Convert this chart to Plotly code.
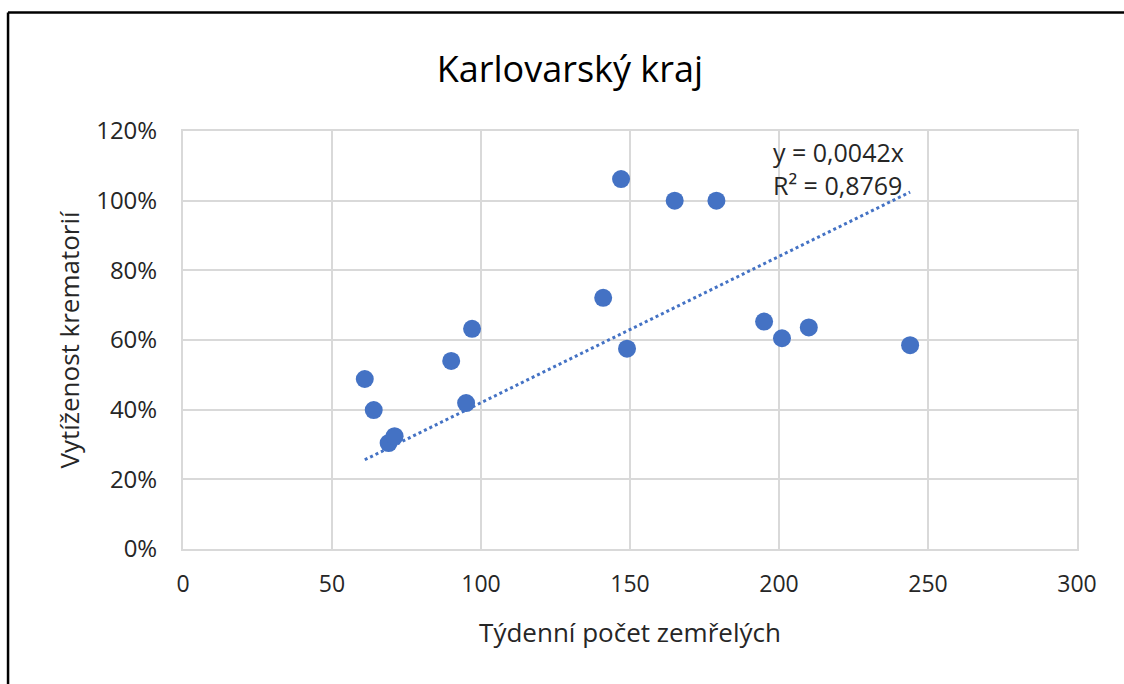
import plotly.graph_objects as go

# Týdenní počet zemřelých vs. vytíženost krematorií
tydenni_pocet = [61, 64, 69, 71, 90, 95, 97, 141, 147, 149, 165, 179, 195, 201, 210, 244]
vytizenost = [0.488, 0.399, 0.304, 0.324, 0.540, 0.419, 0.632, 0.721, 1.062, 0.575,
              1.000, 1.000, 0.653, 0.605, 0.636, 0.585]

# lineární trend přes počátek (z popisku grafu)
sklon = 0.0042
r2_text = "0,8769"

trend_x = [min(tydenni_pocet), max(tydenni_pocet)]
trend_y = [sklon * v for v in trend_x]

modra = '#4472C4'
seda = '#d9d9d9'
pismo = 'Open Sans, Calibri, sans-serif'

fig = go.Figure()
fig.add_trace(go.Scatter(
    x=trend_x, y=trend_y, mode='lines',
    line=dict(color=modra, width=3, dash='dot'),
    hoverinfo='skip',
))
fig.add_trace(go.Scatter(
    x=tydenni_pocet, y=vytizenost, mode='markers',
    marker=dict(color=modra, size=18),
))

fig.update_layout(
    width=1124, height=684,
    margin={'l': 183, 'r': 47, 't': 131, 'b': 135},
    plot_bgcolor='white', paper_bgcolor='white',
    showlegend=False,
    font=dict(family=pismo, color='#404040'),
    title={
        'text': "Karlovarský kraj",
        'x': 0.507, 'xref': 'container', 'xanchor': 'center',
        'y': 0.898, 'yref': 'container', 'yanchor': 'middle',
        'font': dict(size=36, color='#000000', family=pismo),
    },
    xaxis=dict(
        range=[0, 300], dtick=50, tick0=0,
        showgrid=True, gridcolor=seda, gridwidth=2,
        showline=True, linecolor=seda, linewidth=2, mirror=True,
        zeroline=False, ticks='', ticklabelstandoff=13,
        tickfont=dict(size=23, color='#262626'),
        title=dict(text="Týdenní počet zemřelých", standoff=26,
                   font=dict(size=26, color='#262626')),
    ),
    yaxis=dict(
        range=[0, 1.2], dtick=0.2, tick0=0, tickformat='.0%',
        showgrid=True, gridcolor=seda, gridwidth=2,
        showline=True, linecolor=seda, linewidth=2, mirror=True,
        zeroline=False, ticks='', ticklabelstandoff=19,
        tickfont=dict(size=24, color='#262626'),
        title=dict(text="Vytíženost krematorií", standoff=9,
                   font=dict(size=26, color='#262626')),
    ),
)

fig.add_annotation(
    x=0.733, y=0.911, xref='paper', yref='paper',
    text="y = 0,0042x<br>R² = " + r2_text,
    showarrow=False, align='left', xanchor='center', yanchor='middle',
    font=dict(size=25, color='#262626', family=pismo),
)

# černý rámeček vlevo a nahoře
fig.add_shape(type='line', xref='paper', yref='paper',
              x0=-0.1957, y0=-0.34, x1=-0.1957, y1=1.2835,
              line=dict(color='black', width=2.5))
fig.add_shape(type='line', xref='paper', yref='paper',
              x0=-0.1957, y0=1.2835, x1=1.06, y1=1.2835,
              line=dict(color='black', width=2.5))

fig.write_html("out.html", config={'displayModeBar': False},
               post_script="document.body.style.margin='0';")
